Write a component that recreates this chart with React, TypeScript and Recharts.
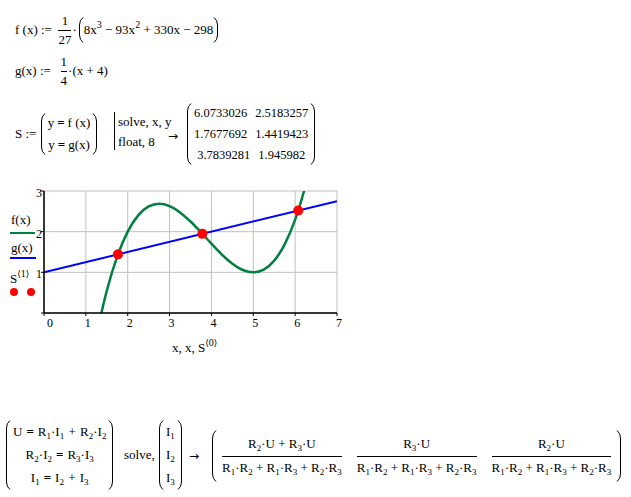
import React from 'react';
import { ComposedChart, Line, Scatter, XAxis, YAxis, CartesianGrid } from 'recharts';

// f(x) values (green curve)
const fX = [1.25, 1.5, 1.75, 2, 2.25, 2.5, 2.75, 3, 3.25, 3.5, 3.75, 4, 4.25, 4.5, 4.75, 5, 5.25, 5.5, 5.75, 6, 6.25, 6.5];
const fY = [-0.56, 0.546, 1.391, 2.0, 2.4, 2.62, 2.6875, 2.63, 2.474, 2.25, 1.984, 1.704, 1.4375, 1.213, 1.058, 1.0, 1.067, 1.287, 1.6875, 2.296, 3.141, 4.25];
// g(x) endpoints (blue line)
const gX = [0, 7];
const gY = [1, 2.75];
// solve results S<0>, S<1>
const sX = [6.0733026, 1.7677692, 3.7839281];
const sY = [2.5183257, 1.4419423, 1.945982];

const xTicks = [0, 1, 2, 3, 4, 5, 6, 7];
const yTicks = [0, 1, 2, 3];

const fData = fX.map((x, i) => ({ x, y: fY[i] }));
const gData = gX.map((x, i) => ({ x, y: gY[i] }));
const sData = sX.map((x, i) => ({ x, y: sY[i] }));

const serif = '"Liberation Serif", "Times New Roman", serif';
const GREEN = '#008040';
const BLUE = '#0000ff';
const RED = '#ff0000';

const XTick = (props: any) => {
  const { x, y, payload } = props;
  const dx = payload.value === 0 ? 6 : 2;
  return (
    <text x={x + dx} y={y + 11} textAnchor="middle" fontFamily={serif} fontSize={12} fill="#000">
      {payload.value}
    </text>
  );
};

const YTick = (props: any) => {
  const { x, y, payload } = props;
  if (payload.value === 0) return null;
  return (
    <text x={x + 1} y={y + 6} textAnchor="end" fontFamily={serif} fontSize={12} fill="#000">
      {payload.value}
    </text>
  );
};

const dotShape = (p: any) => <circle cx={p.cx} cy={p.cy} r={5} fill={RED} />;

// tall bracket drawn like Mathcad's matrix parens
const Paren = ({ h, right }: { h: number; right?: boolean }) => {
  const c = Math.min(8, h / 3);
  const d = right
    ? `M1,0.5 Q4.5,${c * 0.4} 4.5,${c} L4.5,${h - c} Q4.5,${h - c * 0.4} 1,${h - 0.5}`
    : `M5,0.5 Q1.5,${c * 0.4} 1.5,${c} L1.5,${h - c} Q1.5,${h - c * 0.4} 5,${h - 0.5}`;
  return (
    <svg width={6} height={h} style={{ display: 'block', flex: 'none' }}>
      <path d={d} fill="none" stroke="#000" strokeWidth={1} />
    </svg>
  );
};

const Sub = ({ c }: { c: string }) => (
  <span style={{ fontSize: 9, position: 'relative', top: 3 }}>{c}</span>
);
const Sup = ({ c }: { c: string }) => (
  <span style={{ fontSize: 10, position: 'relative', top: -6 }}>{c}</span>
);
const Ang = ({ c }: { c: string }) => (
  <span style={{ fontSize: 10, position: 'relative', top: -6 }}>
    <span style={{ fontFamily: '"DejaVu Sans"', fontSize: 9 }}>⟨</span>
    {c}
    <span style={{ fontFamily: '"DejaVu Sans"', fontSize: 9 }}>⟩</span>
  </span>
);
const Eq = ({ m = 3 }: { m?: number }) => <b style={{ margin: `0 ${m}px` }}>=</b>;
const Arrow = () => <span style={{ fontFamily: '"DejaVu Sans"', fontSize: 12 }}>→</span>;

const Frac = ({ n, d, gap = 2 }: { n: React.ReactNode; d: React.ReactNode; gap?: number }) => (
  <span style={{ display: 'inline-flex', flexDirection: 'column', alignItems: 'center' }}>
    <span style={{ lineHeight: '14px', paddingBottom: gap }}>{n}</span>
    <span style={{ borderTop: '1px solid #000', alignSelf: 'stretch' }} />
    <span style={{ lineHeight: '14px', paddingTop: gap }}>{d}</span>
  </span>
);

const At = ({ x, cy, h, children }: { x: number; cy: number; h: number; children: React.ReactNode }) => (
  <div style={{ position: 'absolute', left: x, top: cy - h / 2, height: h, display: 'flex', alignItems: 'center', whiteSpace: 'nowrap' }}>
    {children}
  </div>
);

const Matrix = ({ rows, rowH, h, gapX = 10 }: { rows: React.ReactNode[][]; rowH: number; h: number; gapX?: number }) => (
  <div style={{ display: 'flex', alignItems: 'center', height: h }}>
    <Paren h={h} />
    <div style={{ padding: '0 2px' }}>
      {rows.map((r, i) => (
        <div key={i} style={{ height: rowH, display: 'flex', alignItems: 'center', justifyContent: 'center', gap: gapX }}>
          {r.map((c, j) => (
            <span key={j}>{c}</span>
          ))}
        </div>
      ))}
    </div>
    <Paren h={h} right />
  </div>
);

const R = ({ i }: { i: string }) => (
  <span>
    R<Sub c={i} />
  </span>
);
const I = ({ i }: { i: string }) => (
  <span>
    I<Sub c={i} />
  </span>
);
const den = (
  <span>
    <R i="1" />·<R i="2" /> + <R i="1" />·<R i="3" /> + <R i="2" />·<R i="3" />
  </span>
);

export default function App() {
  return (
    <div style={{ position: 'absolute', left: 0, top: 0, width: 631, height: 497, background: '#fff', fontFamily: serif, fontSize: 13, color: '#000' }}>
      {/* f(x) definition */}
      <At x={15} cy={30} h={36}>
        <span>f (x)&nbsp;:=&nbsp;&nbsp;</span>
        <Frac n="1" d="27" />
        <span style={{ margin: '0 1px' }}>·</span>
        <Paren h={26} />
        <span>
          8x<Sup c="3" /> − 93x<Sup c="2" /> + 330x − 298
        </span>
        <Paren h={26} right />
      </At>

      {/* g(x) definition */}
      <At x={15} cy={71} h={36}>
        <span>g(x)&nbsp;:=&nbsp;&nbsp;&nbsp;</span>
        <Frac n="1" d="4" />
        <span style={{ margin: '0 1px' }}>·(x + 4)</span>
      </At>

      {/* S := ... solve */}
      <At x={15} cy={134} h={42}>
        <span>S :=&nbsp;</span>
        <Matrix
          h={42}
          rowH={22}
          rows={[
            [<span>y<Eq />f (x)</span>],
            [<span>y<Eq />g(x)</span>],
          ]}
        />
      </At>
      <div style={{ position: 'absolute', left: 114, top: 112, height: 38, borderLeft: '1px solid #000', paddingLeft: 3 }}>
        <div style={{ height: 22, lineHeight: '20px' }}>solve, x, y</div>
        <div style={{ height: 16, lineHeight: '16px' }}>float, 8</div>
      </div>
      <At x={168} cy={136} h={20}>
        <Arrow />
      </At>
      <At x={186} cy={134} h={62}>
        <div style={{ fontSize: 12.5 }}>
          <Matrix
            h={62}
            rowH={21}
            gapX={8}
            rows={[
              ['6.0733026', '2.5183257'],
              ['1.7677692', '1.4419423'],
              ['3.7839281', '1.945982'],
            ]}
          />
        </div>
      </At>

      {/* plot */}
      <div style={{ position: 'absolute', left: 0, top: 180 }}>
        <ComposedChart width={360} height={180} margin={{ top: 11, right: 23, left: 0, bottom: 0 }}>
          <CartesianGrid stroke="#c0c0c0" strokeWidth={1} />
          <XAxis
            type="number"
            dataKey="x"
            domain={[0, 7]}
            ticks={xTicks}
            interval={0}
            allowDataOverflow
            height={47}
            axisLine={{ stroke: '#000', strokeWidth: 1.5 }}
            tickLine={{ stroke: '#000' }}
            tickSize={3}
            tickMargin={0}
            tick={<XTick />}
          />
          <YAxis
            type="number"
            dataKey="y"
            domain={[0, 3]}
            ticks={yTicks}
            interval={0}
            allowDataOverflow
            width={44}
            axisLine={{ stroke: '#000', strokeWidth: 1.5 }}
            tickLine={{ stroke: '#000' }}
            tickSize={3}
            tickMargin={0}
            tick={<YTick />}
          />
          <Line data={fData} dataKey="y" type="monotone" stroke={GREEN} strokeWidth={2.5} dot={false} isAnimationActive={false} />
          <Line data={gData} dataKey="y" type="linear" stroke={BLUE} strokeWidth={2} dot={false} isAnimationActive={false} />
          <Scatter data={sData} dataKey="y" fill={RED} shape={dotShape} isAnimationActive={false} />
        </ComposedChart>
      </div>

      {/* plot legend */}
      <div style={{ position: 'absolute', left: 11, top: 212, lineHeight: '16px' }}>f(x)</div>
      <div style={{ position: 'absolute', left: 10, top: 232, width: 25, height: 2, background: GREEN }} />
      <div style={{ position: 'absolute', left: 11, top: 240, lineHeight: '16px' }}>g(x)</div>
      <div style={{ position: 'absolute', left: 10, top: 257, width: 26, height: 2, background: BLUE }} />
      <div style={{ position: 'absolute', left: 10, top: 271, lineHeight: '16px' }}>
        S<Ang c="1" />
      </div>
      <div style={{ position: 'absolute', left: 10, top: 288, width: 8, height: 8, borderRadius: 4, background: RED }} />
      <div style={{ position: 'absolute', left: 27, top: 288, width: 8, height: 8, borderRadius: 4, background: RED }} />

      {/* x axis label */}
      <div style={{ position: 'absolute', left: 172, top: 340, lineHeight: '16px' }}>
        x, x, S<Ang c="0" />
      </div>

      {/* circuit solve */}
      <At x={5} cy={455} h={70}>
        <div style={{ wordSpacing: 1 }}>
          <Matrix
            h={70}
            rowH={23}
            rows={[
              [<span>U<Eq m={4} /><R i="1" />·<I i="1" /> + <R i="2" />·<I i="2" /></span>],
              [<span><R i="2" />·<I i="2" /><Eq m={4} /><R i="3" />·<I i="3" /></span>],
              [<span><I i="1" /><Eq m={4} /><I i="2" /> + <I i="3" /></span>],
            ]}
          />
        </div>
      </At>
      <At x={124} cy={455} h={20}>
        <span>solve,</span>
      </At>
      <At x={158} cy={455} h={70}>
        <Matrix h={70} rowH={23} rows={[[<I i="1" />], [<I i="2" />], [<I i="3" />]]} />
      </At>
      <At x={189} cy={456} h={20}>
        <Arrow />
      </At>
      <At x={211} cy={456} h={52}>
        <Paren h={52} />
        <div style={{ display: 'flex', alignItems: 'center', gap: 15, padding: '0 5px' }}>
          <Frac
            gap={4}
            n={<span><R i="2" />·U + <R i="3" />·U</span>}
            d={den}
          />
          <Frac gap={4} n={<span><R i="3" />·U</span>} d={den} />
          <Frac gap={4} n={<span><R i="2" />·U</span>} d={den} />
        </div>
        <Paren h={52} right />
      </At>
    </div>
  );
}
